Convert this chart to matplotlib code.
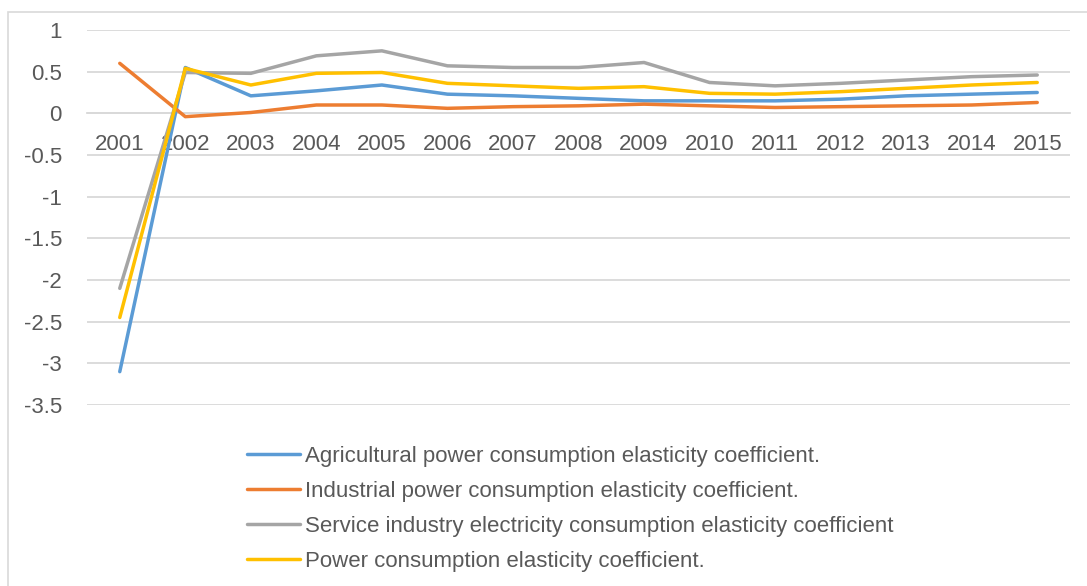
import numpy as np
import matplotlib.pyplot as plt
from matplotlib.patches import Rectangle

plt.rcParams['font.family'] = ['Liberation Sans', 'DejaVu Sans']

years = ['2001', '2002', '2003', '2004', '2005', '2006', '2007', '2008',
         '2009', '2010', '2011', '2012', '2013', '2014', '2015']

agri = [-3.10, 0.55, 0.21, 0.27, 0.34, 0.23, 0.21, 0.18, 0.15, 0.15, 0.15, 0.17, 0.21, 0.23, 0.25]
indus = [0.60, -0.04, 0.01, 0.10, 0.10, 0.06, 0.08, 0.09, 0.11, 0.09, 0.07, 0.08, 0.09, 0.10, 0.13]
service = [-2.10, 0.49, 0.48, 0.69, 0.75, 0.57, 0.55, 0.55, 0.61, 0.37, 0.33, 0.36, 0.40, 0.44, 0.46]
total = [-2.45, 0.54, 0.34, 0.48, 0.49, 0.36, 0.33, 0.30, 0.32, 0.24, 0.23, 0.26, 0.30, 0.34, 0.37]

labels = ['Agricultural power consumption elasticity coefficient.',
          'Industrial power consumption elasticity coefficient.',
          'Service industry electricity consumption elasticity coefficient',
          'Power consumption elasticity coefficient.']
colors = ['#5B9BD5', '#ED7D31', '#A5A5A5', '#FFC000']

fig = plt.figure(figsize=(10.87, 5.86), dpi=100)
ax = fig.add_axes([87/1087, 1 - 405/586, (1070 - 87)/1087, (405 - 30)/586])

# chart border like excel
fig.patches.append(Rectangle((8/1087, -0.1), 1.2, 1 - 12/586 + 0.1, transform=fig.transFigure,
                             fill=False, edgecolor='#D9D9D9', lw=1.2))

x = np.arange(len(years))
for vals, lab, c in zip([agri, indus, service, total], labels, colors):
    ax.plot(x, vals, color=c, lw=2.5, label=lab, solid_capstyle='round', zorder=3)

ax.set_xlim(-0.5, 14.5)
ax.set_ylim(-3.5, 1)
ax.set_yticks(np.arange(-3.5, 1.01, 0.5))
ax.set_yticklabels(['-3.5', '-3', '-2.5', '-2', '-1.5', '-1', '-0.5', '0', '0.5', '1'])
ax.grid(axis='y', color='#D9D9D9', lw=1.3)
ax.set_axisbelow(True)

for s in ['top', 'right', 'left']:
    ax.spines[s].set_visible(False)
ax.spines['bottom'].set_position(('data', 0))
ax.spines['bottom'].set_color('#D9D9D9')
ax.spines['bottom'].set_linewidth(1.3)

ax.set_xticks(x)
ax.set_xticklabels(years)
ax.tick_params(axis='x', length=0, pad=15, labelsize=16, labelcolor='#595959')
ax.tick_params(axis='y', length=0, pad=18, labelsize=16, labelcolor='#595959')

fig.legend(loc='upper left', bbox_to_anchor=(247/1087, 1 - 446/586), frameon=False,
           fontsize=16, handlelength=2.4, handletextpad=0.2, labelspacing=0.63,
           borderpad=0, borderaxespad=0, labelcolor='#595959')

fig.savefig('out.png', dpi=100, facecolor='white')
